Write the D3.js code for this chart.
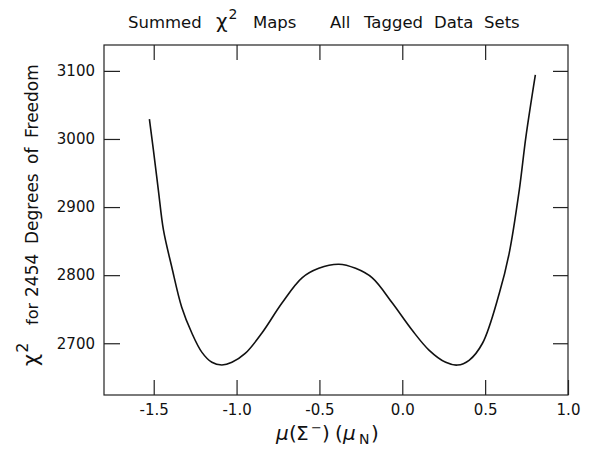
<!DOCTYPE html>
<html><head><meta charset="utf-8">
<script src="https://cdn.jsdelivr.net/npm/d3@7"></script>
<style>
body{margin:0;background:#fff;}
svg{display:block;}
text{font-family:"DejaVu Sans",sans-serif;fill:#111;}
</style></head>
<body><svg id="c" width="589" height="454"></svg>
<script>
const muX = [-1.526,-1.502,-1.472,-1.441,-1.391,-1.331,-1.270,-1.210,-1.149,-1.089,-1.028,-0.948,-0.847,-0.726,-0.605,-0.504,-0.383,-0.282,-0.181,-0.060,0.060,0.161,0.262,0.333,0.403,0.484,0.585,0.645,0.706,0.746,0.803];
const chi2 = [3029,2984,2925,2866,2812,2753,2715,2687,2672,2668,2672,2685,2715,2759,2796,2810,2816,2810,2796,2759,2719,2690,2672,2668,2675,2700,2773,2832,2925,3003,3094];
const xTicks = [-1.5,-1.0,-0.5,0.0,0.5,1.0];
const yTicks = [2700,2800,2900,3000,3100];
const xDomain = [-1.8,1.0];
const yDomain = [2624,3138];

const svg = d3.select("#c");
const L=104, R=568, T=45, B=395;
const x = d3.scaleLinear().domain(xDomain).range([L,R]);
const y = d3.scaleLinear().domain(yDomain).range([B,T]);

// frame
svg.append("rect").attr("x",L).attr("y",T).attr("width",R-L).attr("height",B-T)
  .attr("fill","none").attr("stroke","#222").attr("stroke-width",1.2);

const ax = (g)=>{g.select(".domain").remove(); g.selectAll("line").attr("stroke","#222").attr("stroke-width",1.2);};
const fx = d=>d3.format(".1f")(d).replace("−","-");

svg.append("g").attr("transform",`translate(0,${B})`)
  .call(d3.axisBottom(x).tickValues(xTicks).tickSizeInner(-15).tickSizeOuter(0).tickPadding(9).tickFormat(fx))
  .call(ax).call(g=>g.selectAll("text").attr("font-size",15).attr("font-family","DejaVu Sans").attr("fill","#111"));
svg.append("g").attr("transform",`translate(0,${T})`)
  .call(d3.axisTop(x).tickValues(xTicks.filter(d=>d<1)).tickSizeInner(-15).tickSizeOuter(0).tickFormat(""))
  .call(ax);
svg.append("g").attr("transform",`translate(${L},0)`)
  .call(d3.axisLeft(y).tickValues(yTicks).tickSizeInner(-16).tickSizeOuter(0).tickPadding(9).tickFormat(d3.format("d")))
  .call(ax).call(g=>g.selectAll("text").attr("font-size",15).attr("font-family","DejaVu Sans").attr("fill","#111"));
svg.append("g").attr("transform",`translate(${R},0)`)
  .call(d3.axisRight(y).tickValues(yTicks).tickSizeInner(-15).tickSizeOuter(0).tickFormat(""))
  .call(ax);

// curve
const pts = muX.map((v,i)=>[v,chi2[i]]);
svg.append("path").datum(pts)
  .attr("d", d3.line().x(d=>x(d[0])).y(d=>y(d[1])).curve(d3.curveCatmullRom.alpha(0.5)))
  .attr("fill","none").attr("stroke","#111").attr("stroke-width",1.6);

// title
const t = svg.append("text").attr("y",28).attr("font-size",16.5);
t.append("tspan").attr("x",128).text("Summed");
t.append("tspan").attr("x",216).attr("font-size",20).text("χ");
t.append("tspan").attr("dy",-9).attr("dx",1).attr("font-size",14).text("2");
t.append("tspan").attr("dy",9).attr("x",253).text("Maps");
t.append("tspan").attr("x",330).text("All");
t.append("tspan").attr("x",364).text("Tagged");
t.append("tspan").attr("x",434).text("Data");
t.append("tspan").attr("x",484).text("Sets");

// y label (rotated; local x = -screenY)
const yl = svg.append("text").attr("transform","translate(38,0) rotate(-90)").attr("font-size",17);
yl.append("tspan").attr("x",-366).attr("font-size",21).text("χ");
yl.append("tspan").attr("dy",-10).attr("dx",1).attr("font-size",16).text("2");
yl.append("tspan").attr("dy",10).attr("x",-325).attr("font-size",16).text("for");
yl.append("tspan").attr("x",-297).text("2454");
yl.append("tspan").attr("x",-244).text("Degrees");
yl.append("tspan").attr("x",-164).text("of");
yl.append("tspan").attr("x",-138).text("Freedom");

// x label
const xl = svg.append("text").attr("y",440).attr("font-size",20);
xl.append("tspan").attr("x",276).attr("font-style","italic").text("μ");
xl.append("tspan").attr("x",289).text("(");
xl.append("tspan").attr("x",296).text("Σ");
xl.append("tspan").attr("x",311).attr("dy",-8).attr("font-size",13).text("−");
xl.append("tspan").attr("x",322).attr("dy",8).text(")");
xl.append("tspan").attr("x",335).text("(");
xl.append("tspan").attr("x",343).attr("font-style","italic").text("μ");
xl.append("tspan").attr("x",359).attr("dy",4).attr("font-size",14).text("N");
xl.append("tspan").attr("x",371).attr("dy",-4).text(")");
</script></body></html>
